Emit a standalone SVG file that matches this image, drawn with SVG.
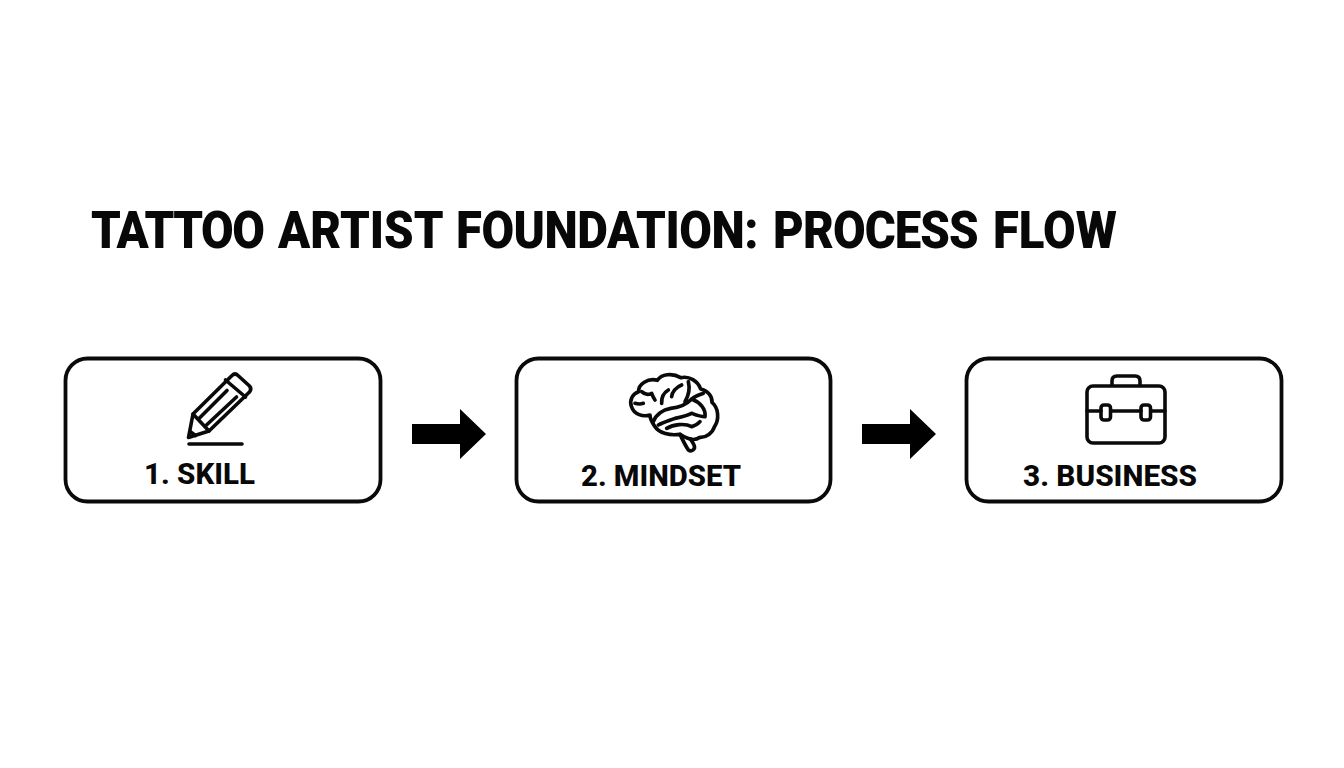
<svg xmlns="http://www.w3.org/2000/svg" width="1344" height="768" viewBox="0 0 1344 768">
<style>
.t{font-family:Roboto,"Liberation Sans",sans-serif;font-weight:800;fill:#080808}
.title{font-size:52px;font-weight:900}
.lbl{font-size:29px}
.box{fill:#fff;stroke:#0a0a0a;stroke-width:3.8}
.ic{fill:none;stroke:#0a0a0a;stroke-width:3.6;stroke-linejoin:round;stroke-linecap:round}
.br{fill:none;stroke:#0a0a0a;stroke-width:11;stroke-linejoin:round;stroke-linecap:round}
.arr{fill:#000}
</style>
<rect width="1344" height="768" fill="#fff"/>
<text id="title" class="t title" y="248.5" transform="scale(.91 1)"><tspan x="100" letter-spacing="-1.6">TATTOO </tspan><tspan x="305.5">ARTIST </tspan><tspan x="501.1" letter-spacing="-.5">FOUNDATION: </tspan><tspan x="849.5" letter-spacing="-1">PROCESS </tspan><tspan x="1091.2">FLOW</tspan></text>
<g id="connectors">
<polygon class="arr" points="412,424 460,424 460,409 486,434 460,459 460,444 412,444"/>
<polygon class="arr" points="862,424 910,424 910,409 936,434 910,459 910,444 862,444"/>
</g>
<g id="node-skill">
<rect class="box" x="65.5" y="358.5" width="315" height="143" rx="22"/>
<path class="ic" d="M188.5 437.5 L193 414 L232 375.5 Q235 372.5 238 375.5 L249.5 386 Q252 389 249.5 392 L209 431 Z"/>
<path class="ic" d="M193 414 L209 431 M225.5 380 L245.5 397 M199.5 418 L227 390.5 M206.5 425 L236.5 397 M190 431.5 L195.5 435.5"/>
<path class="ic" d="M189 444 H242"/>
<text class="t lbl" x="144" y="484" textLength="111" lengthAdjust="spacingAndGlyphs">1. SKILL</text>
</g>
<g id="node-mindset">
<rect class="box" x="516.5" y="358.5" width="314" height="143" rx="22"/>
<g transform="translate(620 365) scale(.3333)">
<path class="br" d="M90 150 C70 156 42 150 34 124 C28 104 38 86 56 80 C54 58 84 38 112 46 C124 28 156 22 182 38 C208 32 234 48 242 72 C262 76 278 94 276 112 C296 128 298 164 284 184 C278 204 258 218 240 217 C225 228 205 225 180 208 C150 212 118 206 104 184 C96 172 90 162 90 150 Z"/>
<path class="br" d="M180 208 C188 225 195 240 205 255 C215 262 228 252 222 240 C218 232 215 228 212 222"/>
<path class="br" d="M100 170 C108 148 130 134 152 130 C175 128 200 118 215 102 C226 92 240 88 250 85 M215 102 C240 112 258 132 255 155 M115 180 C130 172 150 166 165 160 C185 156 205 152 215 145 C228 150 240 155 255 155 M140 190 C160 178 195 174 215 185 C225 182 235 176 240 170 M65 80 C75 90 85 90 95 85 C98 93 100 98 105 105 M45 115 C55 118 62 118 70 115 M125 115 C124 98 130 84 145 75 M155 95 C156 82 168 66 185 60 M205 50 C210 70 206 92 195 110"/>
</g>
<text class="t lbl" x="581" y="486" textLength="160" lengthAdjust="spacingAndGlyphs">2. MINDSET</text>
</g>
<g id="node-business">
<rect class="box" x="966.5" y="358.5" width="315" height="143" rx="22"/>
<rect class="ic" x="1087" y="386" width="78" height="57" rx="6"/>
<path class="ic" d="M1112 385 V381 Q1112 376 1117 376 H1135 Q1140 376 1140 381 V385"/>
<path class="ic" d="M1087 411 H1101 M1111 411 H1141 M1151 411 H1165"/>
<rect class="ic" x="1101" y="405" width="9.5" height="15" rx="3"/>
<rect class="ic" x="1141" y="405" width="9.5" height="15" rx="3"/>
<text class="t lbl" x="1023" y="486" textLength="174" lengthAdjust="spacingAndGlyphs">3. BUSINESS</text>
</g>
</svg>
